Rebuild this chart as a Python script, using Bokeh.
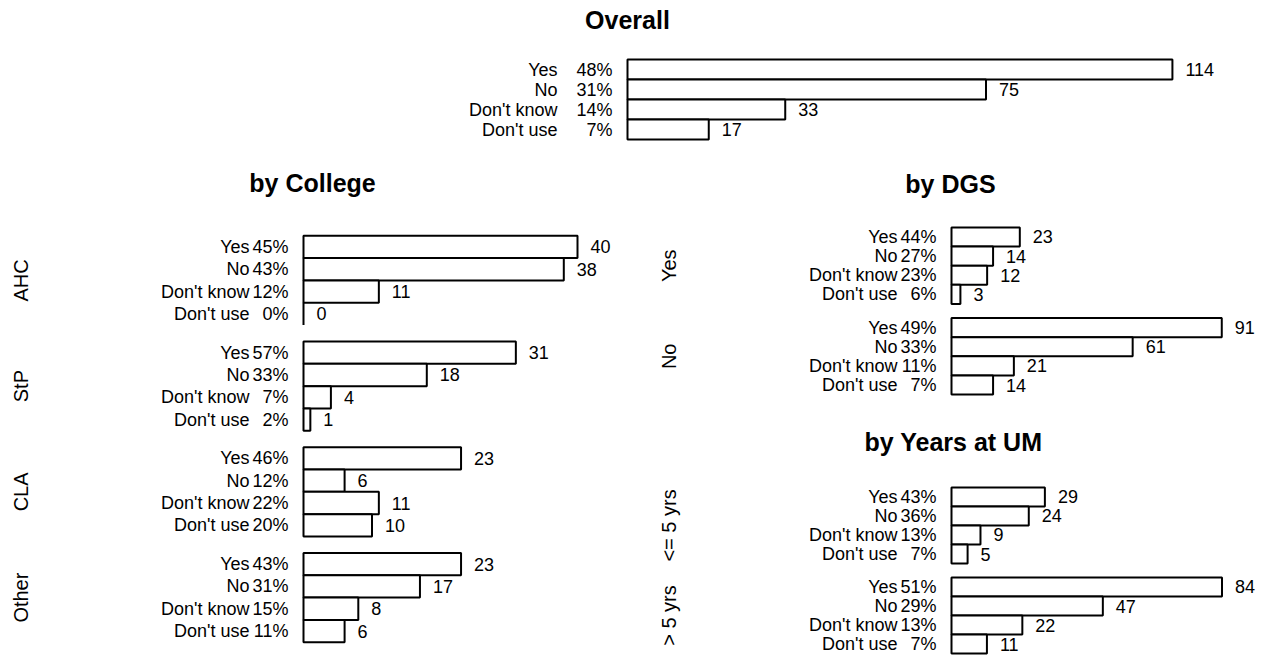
import math
from bokeh.plotting import figure
from bokeh.models import Range1d, FactorRange, ColumnDataSource, Label
from bokeh.layouts import column, row
from bokeh.embed import file_html
from bokeh.resources import INLINE
from bokeh.core.properties import value

FONT = "Liberation Sans"

# ---------------- data ----------------
categories = ["Yes", "No", "Don't know", "Don't use"]

overall_counts = [114, 75, 33, 17]
overall_pcts = ["48%", "31%", "14%", "7%"]

college_groups = ["AHC", "StP", "CLA", "Other"]
ahc_counts = [40, 38, 11, 0]
ahc_pcts = ["45%", "43%", "12%", "0%"]
stp_counts = [31, 18, 4, 1]
stp_pcts = ["57%", "33%", "7%", "2%"]
cla_counts = [23, 6, 11, 10]
cla_pcts = ["46%", "12%", "22%", "20%"]
other_counts = [23, 17, 8, 6]
other_pcts = ["43%", "31%", "15%", "11%"]

dgs_groups = ["Yes", "No"]
dgs_yes_counts = [23, 14, 12, 3]
dgs_yes_pcts = ["44%", "27%", "23%", "6%"]
dgs_no_counts = [91, 61, 21, 14]
dgs_no_pcts = ["49%", "33%", "11%", "7%"]

years_groups = ["<= 5 yrs", "> 5 yrs"]
years_le5_counts = [29, 24, 9, 5]
years_le5_pcts = ["43%", "36%", "13%", "7%"]
years_gt5_counts = [84, 47, 22, 11]
years_gt5_pcts = ["51%", "29%", "13%", "7%"]


def base_fig(width, height, x_range, y_range, top=0, bottom=0):
    p = figure(width=width, height=height, x_range=x_range, y_range=y_range,
               toolbar_location=None, output_backend="svg",
               x_axis_location=None, y_axis_location=None,
               min_border_left=0, min_border_right=0,
               min_border_top=top, min_border_bottom=bottom)
    p.outline_line_color = None
    p.grid.visible = False
    p.background_fill_color = "white"
    p.border_fill_color = "white"
    return p


def title_fig(width, height, text, cx, cy):
    p = base_fig(width, height, Range1d(0, width), Range1d(height, 0))
    p.add_layout(Label(x=cx, y=cy, text=text, text_font=FONT,
                       text_font_style="bold", text_font_size="25px",
                       text_align="center", text_baseline="middle",
                       text_color="black"))
    return p


def panel(width, height, top, frame_h, zero_x, px_per_unit, groups, counts_list,
          pcts_list, cat_off, group_x=None, gpad=0.73, group_font="20px"):
    bottom = height - top - frame_h
    if groups is None:
        factors = list(reversed(categories))
        rows_y = list(categories)
    else:
        factors = [(g, c) for g in reversed(groups) for c in reversed(categories)]
        rows_y = [(g, c) for g in groups for c in categories]
    yr = FactorRange(factors=factors, range_padding=0.1, range_padding_units="absolute",
                     group_padding=gpad, factor_padding=0)
    xr = Range1d(-zero_x / px_per_unit, (width - zero_x) / px_per_unit)
    p = base_fig(width, height, xr, yr, top, bottom)

    counts = [v for lst in counts_list for v in lst]
    pcts = [t for lst in pcts_list for t in lst]
    cats = [c for _ in counts_list for c in categories]
    src = ColumnDataSource(dict(y=rows_y, v=counts, pct=pcts, cat=cats,
                                vtxt=[str(v) for v in counts]))
    p.hbar(y="y", left=0, right="v", height=1, fill_color="white",
           line_color="black", line_width=2, source=src)
    common = dict(text_baseline="middle", text_font=value(FONT),
                  text_font_size="18px", text_color="black", source=src)
    p.text(x=0, y="y", text="cat", x_offset=cat_off, text_align="right", **common)
    p.text(x=0, y="y", text="pct", x_offset=-15, text_align="right", **common)
    p.text(x="v", y="y", text="vtxt", x_offset=13, text_align="left", **common)

    if groups is not None:
        gsrc = ColumnDataSource(dict(y=list(groups), t=list(groups)))
        p.text(x=0, y="y", text="t", x_offset=group_x - zero_x, angle=math.pi / 2,
               text_align="center", text_baseline="middle", text_font=value(FONT),
               text_font_size=group_font, text_color="black", source=gsrc)
    return p


# top block (full width)
overall_title = title_fig(1263, 40, "Overall", 627, 19)
overall = panel(1263, 128, 17, 84, 627, 4.78, None, [overall_counts], [overall_pcts], -70)

# left column
college_title = title_fig(650, 47, "by College", 312, 14)
college = panel(650, 441, 18, 411, 303, 6.85, college_groups,
                [ahc_counts, stp_counts, cla_counts, other_counts],
                [ahc_pcts, stp_pcts, cla_pcts, other_pcts],
                -54, group_x=20, gpad=0.735)

# right column
dgs_title = title_fig(613, 42, "by DGS", 300, 15)
dgs = panel(613, 208, 15, 171, 301, 2.97, dgs_groups,
            [dgs_yes_counts, dgs_no_counts], [dgs_yes_pcts, dgs_no_pcts],
            -54, group_x=18, gpad=0.73)
years_title = title_fig(613, 47, "by Years at UM", 303, 23)
years = panel(613, 191, 20, 170, 301, 3.22, years_groups,
              [years_le5_counts, years_gt5_counts], [years_le5_pcts, years_gt5_pcts],
              -54, group_x=18, gpad=0.73)

layout = column(overall_title, overall,
                row(column(college_title, college),
                    column(dgs_title, dgs, years_title, years)))

open("out.html", "w").write(file_html(layout, INLINE))
